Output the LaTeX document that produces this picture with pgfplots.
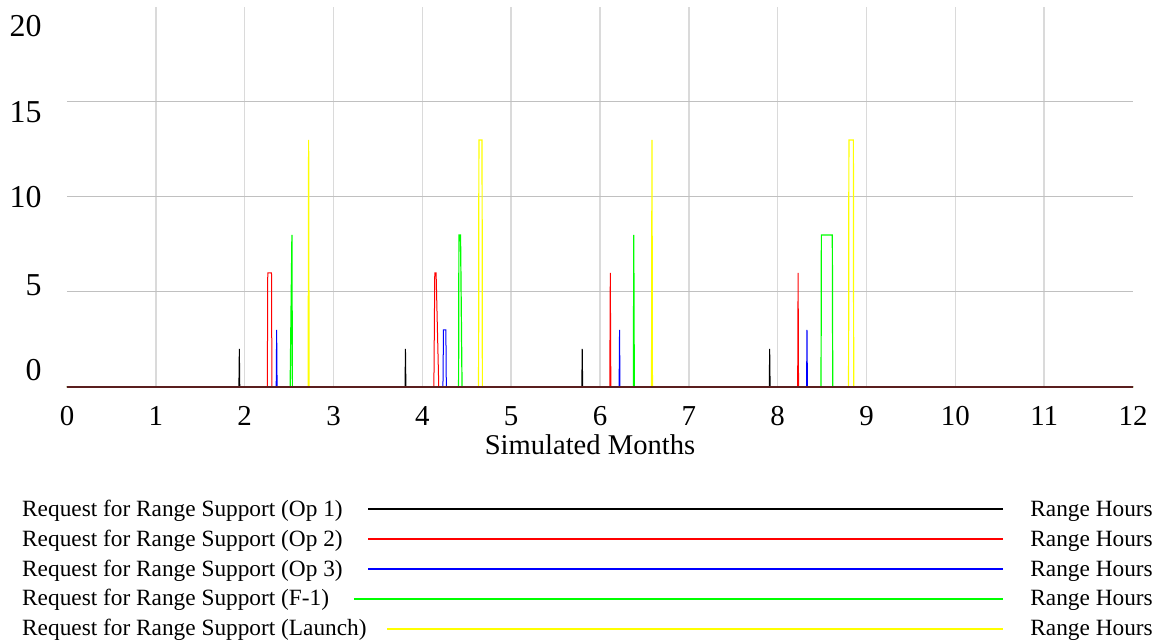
\documentclass[border=0pt]{standalone}
\usepackage{fontspec}
\setmainfont{Liberation Serif}
\usepackage{pgfplots}
\pgfplotsset{compat=1.18}
\definecolor{gridv}{HTML}{DADADA}
\definecolor{gridh}{HTML}{C0C0C0}
\definecolor{base}{HTML}{5A1E1E}
\definecolor{vred}{HTML}{FF0000}
\definecolor{vblue}{HTML}{0000FF}
\definecolor{vgreen}{HTML}{00FF00}
\definecolor{vyellow}{HTML}{FFFF00}
\begin{document}
\begin{tikzpicture}[x=1bp,y=1bp]
\useasboundingbox (-67,-255) rectangle (1091,387);
\begin{axis}[
  at={(0,0)}, anchor=south west,
  scale only axis, width=1066bp, height=380bp,
  xmin=0, xmax=12, ymin=0, ymax=20,
  axis line style={draw=none},
  major tick length=0pt,
  clip=false,
  xtick={0,1,2,3,4,5,6,7,8,9,10,11,12},
  xticklabels={0,1,2,3,4,5,6,7,8,9,10,11,12},
  ytick={0.89,5.37,10,14.47,19.0},
  yticklabels={0,5,10,15,20},
  xticklabel style={font=\fontsize{29}{29}\selectfont, yshift=-16bp},
  yticklabel style={font=\fontsize{32}{32}\selectfont, xshift=-22bp},
]
\pgfplotsinvokeforeach{1,...,11}{\draw[gridv, line width=1.6bp] (axis cs:#1,0) -- (axis cs:#1,20);}
\pgfplotsinvokeforeach{5,10,15}{\draw[gridh, line width=1bp] (axis cs:0,#1) -- (axis cs:12,#1);}
% Op 1
\addplot[black, line width=1bp] coordinates {(0,0)(1.935,0)(1.94,2)(1.945,0)(3.805,0)(3.81,2)(3.815,0)(5.795,0)(5.80,2)(5.805,0)(7.905,0)(7.91,2)(7.915,0)(12,0)};
% Op 2
\addplot[vred, line width=1bp] coordinates {(0,0)(2.255,0)(2.26,6)(2.302,6)(2.307,0)(4.13,0)(4.14,6)(4.155,6)(4.185,0)(6.11,0)(6.116,6)(6.122,0)(8.225,0)(8.23,6)(8.235,0)(12,0)};
% Op 3
\addplot[vblue, line width=1bp] coordinates {(0,0)(2.355,0)(2.36,3)(2.365,0)(4.232,0)(4.238,3)(4.265,3)(4.27,0)(6.215,0)(6.22,3)(6.225,0)(8.325,0)(8.33,3)(8.335,0)(12,0)};
% F-1
\addplot[vgreen, line width=1.2bp] coordinates {(0,0)(2.512,0)(2.532,8)(2.537,0)(4.408,0)(4.412,8)(4.43,8)(4.447,0)(6.376,0)(6.38,8)(6.386,0)(8.488,0)(8.492,8)(8.615,8)(8.62,0)(12,0)};
% Launch
\addplot[vyellow, line width=1.2bp] coordinates {(0,0)(2.715,0)(2.72,13)(2.725,0)(4.633,0)(4.637,13)(4.672,13)(4.676,0)(6.58,0)(6.585,13)(6.59,0)(8.798,0)(8.802,13)(8.852,13)(8.856,0)(12,0)};
\draw[base, line width=2bp] (axis cs:0,0) -- (axis cs:12,0);
\end{axis}
\node[anchor=base, inner sep=0pt, font=\fontsize{28.7}{28.7}\selectfont] at (523,-68) {Simulated Months};
\begin{scope}[every node/.style={inner sep=0pt, font=\fontsize{23.4}{23.4}\selectfont}]
\node[anchor=base west] at (-45,-129.7) {Request for Range Support (Op 1)};
\node[anchor=base west] at (-45,-159.4) {Request for Range Support (Op 2)};
\node[anchor=base west] at (-45,-189.1) {Request for Range Support (Op 3)};
\node[anchor=base west] at (-45,-218.8) {Request for Range Support (F-1)};
\node[anchor=base west] at (-45,-248.5) {Request for Range Support (Launch)};
\foreach \i in {0,...,4} {\node[anchor=base east] at (1086,-129.7-29.7*\i) {Range Hours};}
\end{scope}
\draw[draw=black, line width=1.6bp] (301.3,-122) -- (936.3,-122);
\draw[draw=vred, line width=1.6bp] (301.3,-152) -- (936.3,-152);
\draw[draw=vblue, line width=1.6bp] (301.3,-182) -- (936.3,-182);
\draw[draw=vgreen, line width=1.6bp] (287.3,-212) -- (936.3,-212);
\draw[draw=vyellow, line width=1.6bp] (320.3,-242) -- (936.3,-242);
\end{tikzpicture}
\end{document}
